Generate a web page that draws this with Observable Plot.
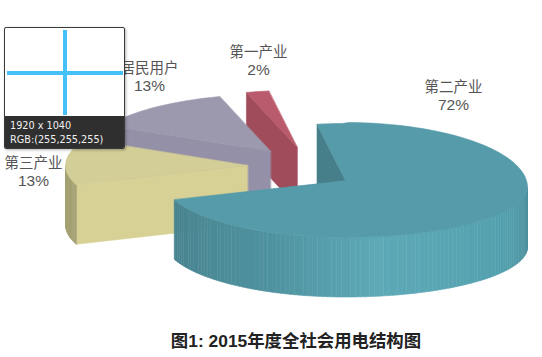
<!DOCTYPE html>
<html lang="zh">
<head>
<meta charset="utf-8">
<script src="https://cdn.jsdelivr.net/npm/d3@7"></script>
<script src="https://cdn.jsdelivr.net/npm/@observablehq/plot@0.6"></script>
<style>
  html, body { margin: 0; padding: 0; background: #fff; }
  #page { position: relative; width: 542px; height: 357px; overflow: hidden; font-family: "Noto Sans CJK SC", "Noto Sans", sans-serif; }
  #page svg { display: block; position: absolute; left: 0; top: 0; }
  #caption { position: absolute; left: 0; width: 592px; top: 331px; text-align: center; font-size: 17.4px; font-weight: 700; color: #222; line-height: 20px; font-family: "Liberation Sans", "Noto Sans CJK SC", sans-serif; }
  #picker { position: absolute; left: 4px; top: 27px; width: 121px; height: 122px; background: #fff; border: 1px solid #3a3a3a; border-radius: 2px; box-sizing: border-box; box-shadow: 1px 1px 3px rgba(0,0,0,.3); overflow: hidden; }
  #picker .h { position: absolute; left: 2px; top: 43px; width: 116px; height: 4px; background: #45c0f8; }
  #picker .v { position: absolute; left: 58px; top: 2px; width: 4px; height: 85px; background: #45c0f8; }
  #picker .info { position: absolute; left: 0; right: 0; top: 88px; bottom: 0; background: #2f2f2f; color: #f1f1f1; font: 9.7px/14px "DejaVu Sans", sans-serif; padding: 3px 0 0 5px; white-space: nowrap; }
</style>
</head>
<body>
<div id="page">
  <div id="caption">图1: 2015年度全社会用电结构图</div>
  <div id="picker"><div class="h"></div><div class="v"></div><div class="info">1920 x 1040<br>RGB:(255,255,255)</div></div>
</div>
<script>
// Data
const categories = ["第二产业", "第三产业", "居民用户", "第一产业"];
const shares = [72, 13, 13, 2];
const shareLabels = ["72%", "13%", "13%", "2%"];

// Layout and style
const W = 542, H = 357;
const center = [310.6, 166.2], rx = 182, ry = 57, depth = 59.5;
const firstAngle = -9;
const explodeAmount = [0.307, 0.35, 0.35, 0.35];
const explodeTurn = [21.4, 0, 0, 0];
const topColor = ["#569ba9", "#d3cd97", "#9c99ae", "#b95b6c"];
const cutColor = ["#467f8a", "#d7d196", "#9490a8", "#a04c5b"];
const rimColor = [null, "#a4a172", null, null];
const labelX = [453, 33, 149, 258];
const nameY = [87, 163, 68, 52];
const shareY = [105, 181, 86, 70];
const drawOrder = [3, 2, 1, 0];
const bigRim = d3.scaleLinear([90, 120, 170, 205, 250],
  ["#4b8d9a", "#53a0ae", "#5da9b7", "#4f929f", "#47838f"]);
// the big slice's far-right rim sags a little (the reference's perspective)
const sag = 7, upperRight = 65, lowerRight = 50;

const rad = d => d * Math.PI / 180;
const deg = a => a * 180 / Math.PI;
const pie = d3.pie().sort(null).startAngle(rad(firstAngle)).endAngle(rad(firstAngle + 360))(shares);

const slices = pie.map((p, i) => {
  const a0 = deg(p.startAngle), a1 = deg(p.endAngle);
  const dir = rad((a0 + a1) / 2 + explodeTurn[i]);
  const ax = center[0] + explodeAmount[i] * rx * Math.sin(dir);
  const ay = center[1] - explodeAmount[i] * ry * Math.cos(dir);
  const at = t => {
    const x = ax + rx * Math.sin(rad(t));
    if (i === 0 && t >= 0 && t <= 180) {
      const r = t <= 90 ? upperRight : lowerRight;
      return {x, y: ay + sag - r * Math.cos(rad(t))};
    }
    return {x, y: ay - ry * Math.cos(rad(t))};
  };
  return {i, a0, a1, ax, ay, at};
});

const polys = [];
let id = 0;
function add(points, color) {
  const k = id++;
  for (const [x, y] of points) polys.push({id: k, x, y, color});
}
for (const i of drawOrder) {
  const s = slices[i];
  const arc = [];
  for (let t = s.a0; t < s.a1; t += 2) arc.push(s.at(t));
  arc.push(s.at(s.a1));
  const A = [s.ax, s.ay], P0 = s.at(s.a0);
  // radial cut face that looks toward the viewer
  add([A, [P0.x, P0.y], [P0.x, P0.y + depth], [A[0], A[1] + depth]], cutColor[i]);
  // outer rim, front half only
  const lo = Math.max(s.a0, 90), hi = Math.min(s.a1, 270);
  if (hi > lo) {
    const n = Math.ceil((hi - lo) / 1.5);
    for (let k = 0; k < n; k++) {
      const t0 = lo + (hi - lo) * k / n, t1 = lo + (hi - lo) * (k + 1) / n;
      const p = s.at(t0), q = s.at(t1);
      add([[p.x, p.y], [q.x, q.y], [q.x, q.y + depth], [p.x, p.y + depth]],
          i === 0 ? bigRim((t0 + t1) / 2) : rimColor[i]);
    }
  }
  // top face
  add([A, ...arc.map(d => [d.x, d.y])], topColor[i]);
}

const nameRows = categories.map((text, i) => ({text, x: labelX[i], y: nameY[i]}));
const shareRows = shareLabels.map((text, i) => ({text, x: labelX[i], y: shareY[i]}));

const chart = Plot.plot({
  width: W, height: H, margin: 0,
  x: {domain: [0, W], axis: null},
  y: {domain: [0, H], reverse: true, axis: null},
  color: {type: "identity"},
  marks: [
    Plot.line(polys, {x: "x", y: "y", z: "id", fill: "color", stroke: "color", strokeWidth: 0.6, curve: "linear-closed"}),
    Plot.text(nameRows, {x: "x", y: "y", text: "text", fontSize: 14.5, fill: "#555", fontFamily: "Noto Sans CJK SC"}),
    Plot.text(shareRows, {x: "x", y: "y", text: "text", fontSize: 15.5, fill: "#555", fontFamily: "Liberation Sans"})
  ]
});
document.getElementById("page").prepend(chart);
</script>
</body>
</html>
